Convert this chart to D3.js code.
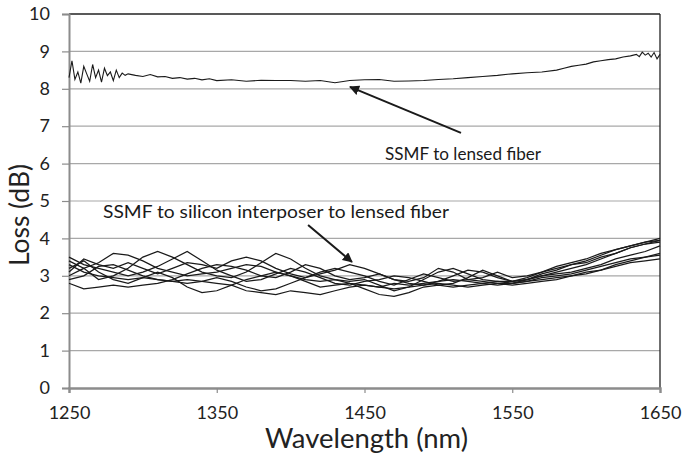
<!DOCTYPE html>
<html>
<head>
<meta charset="utf-8">
<script src="https://cdn.jsdelivr.net/npm/d3@7"></script>
<style>
  body { margin: 0; background: #fff; }
  svg { display: block; font-family: Lato, "Open Sans", sans-serif; }
</style>
</head>
<body>
<div id="chart"></div>
<script>
// tick labels
const xTicks = [1250, 1350, 1450, 1550, 1650];
const yTicks = [0, 1, 2, 3, 4, 5, 6, 7, 8, 9, 10];

// SSMF to lensed fiber (single trace)
const lensedWl = [1250, 1252, 1254, 1256, 1258, 1260, 1262, 1264, 1266, 1268, 1270, 1272, 1274, 1276, 1278, 1280,
    1282, 1284, 1286, 1288, 1290, 1295, 1300, 1305, 1310, 1315, 1320, 1325, 1330, 1335, 1340, 1345, 1350, 1360,
    1370, 1380, 1390, 1400, 1410, 1420, 1430, 1440, 1450, 1460, 1470, 1480, 1490, 1500, 1510, 1520, 1530, 1540,
    1550, 1560, 1570, 1580, 1585, 1590, 1595, 1600, 1605, 1610, 1615, 1620, 1625, 1630, 1634, 1636, 1638, 1640,
    1642, 1644, 1646, 1648, 1650];
const lensedLoss = [8.3, 8.75, 8.25, 8.45, 8.15, 8.6, 8.4, 8.2, 8.65, 8.3, 8.5, 8.18, 8.55, 8.35, 8.45, 8.22,
    8.5, 8.3, 8.42, 8.36, 8.4, 8.36, 8.33, 8.38, 8.32, 8.33, 8.28, 8.3, 8.26, 8.28, 8.24, 8.27, 8.22, 8.24,
    8.2, 8.23, 8.22, 8.22, 8.2, 8.22, 8.16, 8.22, 8.24, 8.25, 8.2, 8.21, 8.22, 8.25, 8.27, 8.3, 8.33, 8.36,
    8.4, 8.43, 8.45, 8.5, 8.55, 8.6, 8.63, 8.66, 8.72, 8.75, 8.78, 8.8, 8.85, 8.88, 8.92, 8.86, 8.98, 8.9,
    8.95, 8.85, 8.97, 8.8, 8.92];

// SSMF to silicon interposer to lensed fiber (several traces, 10 nm step)
const interposerWl = d3.range(1250, 1651, 10);
const interposerLoss = [
    [3.3, 3.1, 3.0, 2.95, 2.9, 2.95, 2.9, 2.85, 2.9, 2.85, 2.8, 2.75, 2.6, 2.55, 2.5, 2.6, 2.55, 2.5, 2.6, 2.7, 2.75,
     2.7, 2.65, 2.7, 2.75, 2.8, 2.75, 2.7, 2.75, 2.8, 2.8, 2.85, 2.9, 2.95, 3.0, 3.05, 3.15, 3.25, 3.35, 3.4, 3.45],
    [3.4, 3.2, 3.35, 3.6, 3.55, 3.4, 3.2, 3.1, 3.0, 3.05, 3.1, 3.2, 3.3, 3.25, 3.1, 3.0, 2.9, 2.85, 2.9, 2.8, 2.75,
     2.7, 2.8, 2.75, 2.8, 2.85, 2.9, 2.85, 2.8, 2.85, 2.85, 2.9, 3.0, 3.05, 3.1, 3.2, 3.3, 3.45, 3.55, 3.65, 3.8],
    [3.0, 3.2, 2.9, 3.0, 3.2, 3.5, 3.65, 3.5, 3.3, 3.1, 3.0, 2.95, 3.1, 3.35, 3.6, 3.45, 3.2, 3.0, 2.9, 2.85, 2.9,
     2.75, 2.6, 2.7, 2.9, 3.1, 3.2, 3.05, 2.9, 2.85, 2.8, 2.9, 3.0, 3.1, 3.2, 3.3, 3.45, 3.6, 3.75, 3.85, 3.95],
    [2.8, 2.65, 2.7, 2.75, 2.7, 2.75, 2.8, 2.9, 3.05, 3.2, 3.3, 3.25, 3.15, 3.0, 2.95, 3.1, 3.3, 3.2, 3.0, 2.9, 2.95,
     3.05, 2.9, 2.8, 2.75, 2.85, 3.0, 3.15, 3.1, 2.95, 2.85, 2.95, 3.1, 3.2, 3.3, 3.4, 3.55, 3.7, 3.8, 3.9, 4.0],
    [3.5, 3.3, 3.2, 3.1, 3.0, 3.1, 3.25, 3.45, 3.65, 3.4, 3.15, 3.0, 2.85, 2.9, 3.05, 3.2, 3.1, 2.95, 2.8, 2.75, 2.85,
     2.9, 3.0, 2.95, 2.85, 2.75, 2.8, 2.95, 3.15, 3.0, 2.85, 2.9, 3.05, 3.15, 3.3, 3.35, 3.5, 3.6, 3.75, 3.85, 3.9],
    [3.2, 3.4, 3.1, 2.9, 2.8, 2.95, 3.1, 2.95, 2.7, 2.55, 2.6, 2.75, 2.9, 3.0, 3.1, 3.0, 2.85, 2.7, 2.75, 2.8, 2.65,
     2.5, 2.45, 2.55, 2.7, 2.75, 2.7, 2.75, 2.8, 2.75, 2.8, 2.85, 2.95, 3.0, 3.05, 3.15, 3.25, 3.35, 3.45, 3.5, 3.55],
    [3.1, 3.45, 3.3, 3.2, 3.35, 3.2, 3.05, 3.2, 3.35, 3.3, 3.2, 3.4, 3.5, 3.4, 3.2, 3.05, 2.95, 3.1, 3.2, 3.1, 3.0,
     2.85, 2.75, 2.9, 3.05, 2.95, 2.85, 2.9, 2.95, 3.1, 2.95, 3.0, 3.1, 3.25, 3.35, 3.45, 3.6, 3.7, 3.8, 3.9, 3.95],
    [2.9, 3.0, 3.25, 3.3, 3.15, 3.0, 2.9, 2.85, 2.8, 2.85, 2.95, 2.85, 2.7, 2.6, 2.65, 2.8, 2.95, 3.05, 3.15, 3.3, 3.2,
     3.05, 2.9, 2.85, 2.95, 3.2, 3.1, 2.9, 2.85, 2.8, 2.75, 2.8, 2.85, 2.9, 3.0, 3.1, 3.15, 3.3, 3.4, 3.5, 3.6]
];

const margin = {top: 14, right: 22, bottom: 67, left: 69},
    width = 682 - margin.left - margin.right,
    height = 455 - margin.top - margin.bottom;

const svg = d3.select("#chart")
    .append("svg")
    .attr("width", 682)
    .attr("height", 455)
    .append("g")
    .attr("transform", `translate(${margin.left},${margin.top})`);

const x = d3.scaleLinear().domain([1250, 1650]).range([0, width]);
const y = d3.scaleLinear().domain([0, 10]).range([height, 0]);

// gridlines
svg.append("g")
    .selectAll("line")
    .data(yTicks.filter(d => d > 0 && d < 10))
    .join("line")
    .attr("x1", 0).attr("x2", width)
    .attr("y1", d => y(d)).attr("y2", d => y(d))
    .attr("stroke", "#a8a8a8")
    .attr("stroke-width", 1.2);

// top and right frame
svg.append("line").attr("x1", 0).attr("x2", width).attr("y1", 0).attr("y2", 0)
    .attr("stroke", "#222").attr("stroke-width", 1.3);
svg.append("line").attr("x1", width).attr("x2", width).attr("y1", 0).attr("y2", height)
    .attr("stroke", "#222").attr("stroke-width", 1.3);

// y axis
const yAxis = svg.append("g")
    .call(d3.axisLeft(y).tickValues(yTicks).tickSize(7).tickPadding(12));
yAxis.select(".domain").attr("stroke", "#8c8c8c").attr("stroke-width", 2);
yAxis.selectAll(".tick line").attr("stroke", "#8c8c8c").attr("stroke-width", 1.2);
yAxis.selectAll("text").attr("font-size", 18).attr("fill", "#222").attr("font-family", "Lato, sans-serif");

// x axis
const xAxis = svg.append("g")
    .attr("transform", `translate(0,${height})`)
    .call(d3.axisBottom(x).tickValues(xTicks).tickSize(5).tickPadding(13).tickFormat(d3.format("d")));
xAxis.select(".domain").attr("stroke", "#8c8c8c").attr("stroke-width", 2.4);
xAxis.selectAll(".tick line").attr("stroke", "#8c8c8c").attr("stroke-width", 1.2);
xAxis.selectAll("text").attr("font-size", 18).attr("fill", "#222").attr("font-family", "Lato, sans-serif");

// lines
const line = d3.line()
    .x(d => x(d[0]))
    .y(d => y(d[1]));

svg.append("path")
    .datum(lensedWl.map((w, i) => [w, lensedLoss[i]]))
    .attr("fill", "none")
    .attr("stroke", "#1a1a1a")
    .attr("stroke-width", 1.1)
    .attr("d", line);

svg.append("g")
    .selectAll("path")
    .data(interposerLoss)
    .join("path")
    .attr("fill", "none")
    .attr("stroke", "#1a1a1a")
    .attr("stroke-width", 1.25)
    .attr("d", vals => line(interposerWl.map((w, i) => [w, vals[i]])));

// annotations
svg.append("defs").append("marker")
    .attr("id", "arrow")
    .attr("viewBox", "0 0 10 10")
    .attr("refX", 9).attr("refY", 5)
    .attr("markerWidth", 5).attr("markerHeight", 5)
    .attr("orient", "auto")
    .append("path")
    .attr("d", "M0,0 L10,5 L0,10 z")
    .attr("fill", "#1a1a1a");

svg.append("line")
    .attr("x1", x(1515.3)).attr("y1", y(6.82))
    .attr("x2", x(1440.2)).attr("y2", y(8.05))
    .attr("stroke", "#1a1a1a").attr("stroke-width", 2)
    .attr("marker-end", "url(#arrow)");

svg.append("line")
    .attr("x1", x(1411.8)).attr("y1", y(4.36))
    .attr("x2", x(1441.5)).attr("y2", y(3.37))
    .attr("stroke", "#1a1a1a").attr("stroke-width", 2)
    .attr("marker-end", "url(#arrow)");

svg.append("text")
    .attr("x", x(1463.9)).attr("y", y(6.1))
    .attr("font-size", 17).attr("fill", "#1a1a1a")
    .attr("textLength", 156).attr("lengthAdjust", "spacingAndGlyphs")
    .text("SSMF to lensed fiber");

svg.append("text")
    .attr("x", x(1273)).attr("y", y(4.55))
    .attr("font-size", 17).attr("fill", "#1a1a1a")
    .attr("textLength", 346).attr("lengthAdjust", "spacingAndGlyphs")
    .text("SSMF to silicon interposer to lensed fiber");

// axis titles
svg.append("text")
    .attr("x", width / 2 + 2)
    .attr("y", height + 60)
    .attr("text-anchor", "middle")
    .attr("font-size", 26).attr("fill", "#222")
    .attr("textLength", 203).attr("lengthAdjust", "spacingAndGlyphs")
    .text("Wavelength (nm)");

svg.append("text")
    .attr("transform", `translate(${-margin.left + 29},${height / 2 + 14}) rotate(-90)`)
    .attr("text-anchor", "middle")
    .attr("font-size", 26).attr("fill", "#222")
    .attr("textLength", 102).attr("lengthAdjust", "spacingAndGlyphs")
    .text("Loss (dB)");
</script>
</body>
</html>
